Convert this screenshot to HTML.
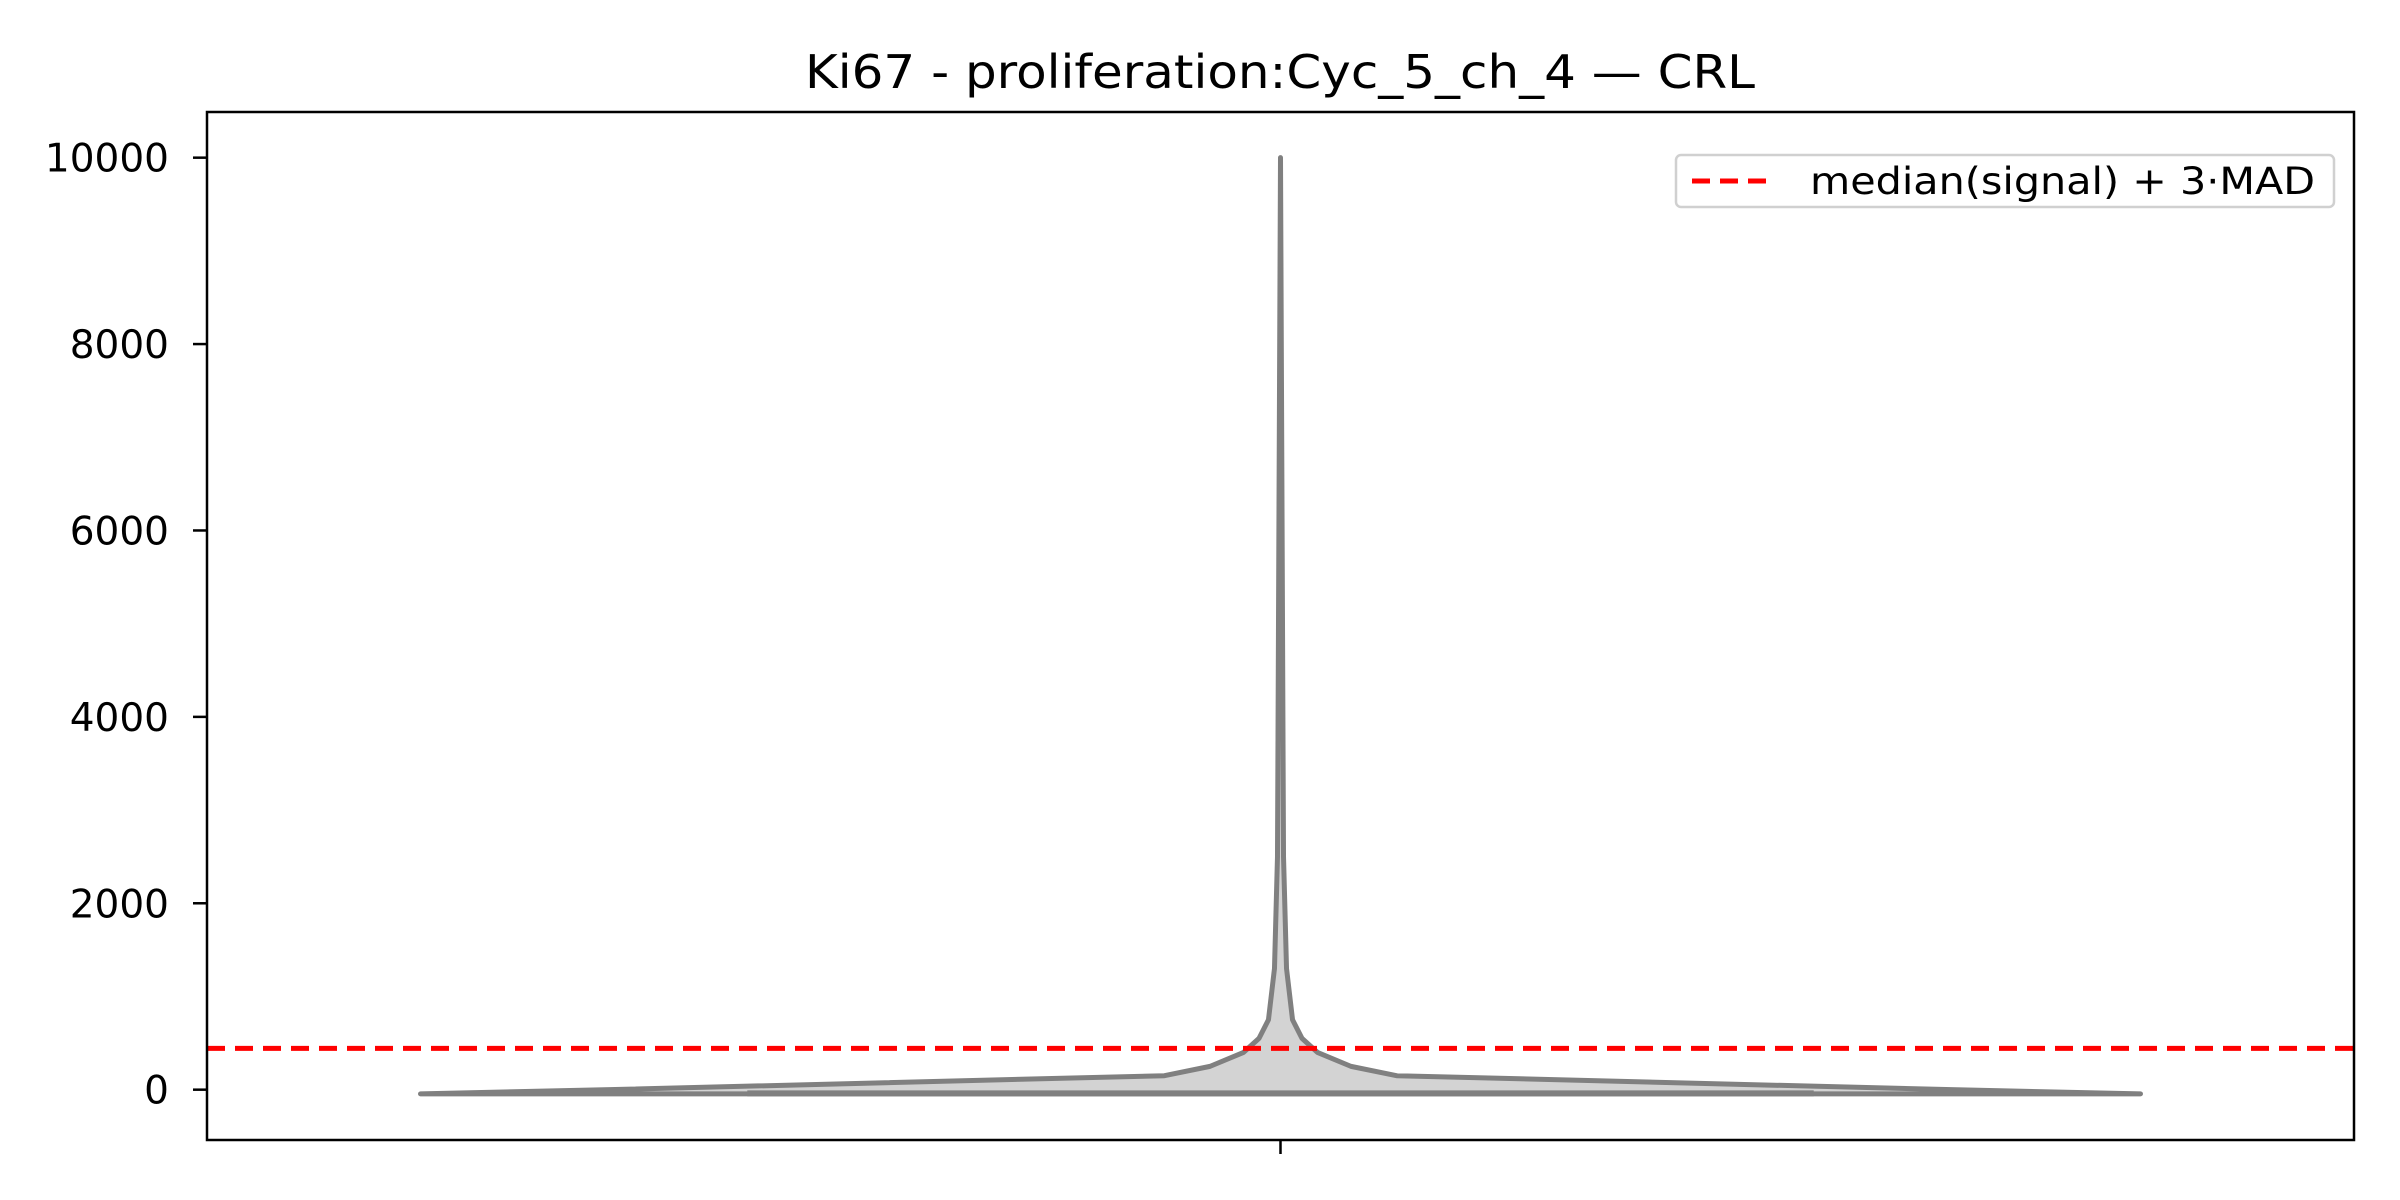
<!DOCTYPE html>
<html><head><meta charset="utf-8"><style>
html,body{margin:0;padding:0;background:#fff}
svg{display:block;font-family:"DejaVu Sans","Liberation Sans",sans-serif}
</style></head><body>
<svg id="chart" width="2400" height="1200" viewBox="0 0 2400 1200" xmlns="http://www.w3.org/2000/svg">
<rect width="2400" height="1200" fill="#fff"/>
<text x="1280" y="88" font-size="46" text-anchor="middle" textLength="950" lengthAdjust="spacingAndGlyphs">Ki67 - proliferation:Cyc_5_ch_4 — CRL</text>
<g id="plot"></g>
<rect x="207" y="112" width="2147" height="1028" fill="none" stroke="#000" stroke-width="2.5"/>
<g>
<rect x="1676" y="155" width="658" height="52" rx="5" fill="#fff" stroke="#d0d0d0" stroke-width="2.5"/>
<line x1="1692" y1="181" x2="1776" y2="181" stroke="#ff0000" stroke-width="5" stroke-dasharray="18,10"/>
<text x="1810" y="194" font-size="37" textLength="505" lengthAdjust="spacingAndGlyphs">median(signal) + 3·MAD</text>
</g>
</svg>
<script>
const yTicks = [0, 2000, 4000, 6000, 8000, 10000];
const violinValues = [-45, 0, 150, 250, 400, 550, 750, 1300, 2500, 10000];
const violinWidths = [1.0, 0.78, 0.135, 0.082, 0.043, 0.025, 0.014, 0.007, 0.0035, 0.0];
const thresholdValue = [443];
const category = ["CRL"];

const NS = "http://www.w3.org/2000/svg";
const L = 207, R = 2354, T = 112, B = 1140;
const yMin = -540, yMax = 10490;
function y(v){ return B - (v - yMin) / (yMax - yMin) * (B - T); }
const cx = (L + R) / 2, maxHalf = 860;
function xw(w, side){ return cx + side * w * maxHalf; }
const plot = document.getElementById('plot');

yTicks.forEach(t => {
  const ln = document.createElementNS(NS, 'line');
  ln.setAttribute('x1', L - 14); ln.setAttribute('x2', L);
  ln.setAttribute('y1', y(t)); ln.setAttribute('y2', y(t));
  ln.setAttribute('stroke', '#000'); ln.setAttribute('stroke-width', '2.5');
  
  
  plot.appendChild(ln);
  const tx = document.createElementNS(NS, 'text');
  tx.setAttribute('x', L - 38); tx.setAttribute('y', y(t) + 14);
  tx.setAttribute('font-size', '39'); tx.setAttribute('text-anchor', 'end');
  tx.textContent = t;
  
  
  plot.appendChild(tx);
});
const xt = document.createElementNS(NS, 'line');
xt.setAttribute('x1', cx); xt.setAttribute('x2', cx);
xt.setAttribute('y1', B); xt.setAttribute('y2', B + 14);
xt.setAttribute('stroke', '#000'); xt.setAttribute('stroke-width', '2.5');


plot.appendChild(xt);

let pts = [];
for (let i = 0; i < violinValues.length; i++) pts.push(xw(violinWidths[i], -1) + ',' + y(violinValues[i]));
for (let i = violinValues.length - 1; i >= 0; i--) pts.push(xw(violinWidths[i], 1) + ',' + y(violinValues[i]));
const poly = document.createElementNS(NS, 'polygon');
poly.setAttribute('points', pts.join(' '));
poly.setAttribute('fill', '#d3d3d3'); poly.setAttribute('stroke', '#808080');
poly.setAttribute('stroke-width', '5'); poly.setAttribute('stroke-linejoin', 'round');


plot.appendChild(poly);

const base = document.createElementNS(NS, 'line');
base.setAttribute('x1', xw(0.62, -1)); base.setAttribute('x2', xw(0.62, 1));
base.setAttribute('y1', y(-40)); base.setAttribute('y2', y(-40));
base.setAttribute('stroke', '#808080'); base.setAttribute('stroke-width', '6');


plot.appendChild(base);

const thr = document.createElementNS(NS, 'line');
thr.setAttribute('x1', L); thr.setAttribute('x2', R);
thr.setAttribute('y1', y(thresholdValue[0])); thr.setAttribute('y2', y(thresholdValue[0]));
thr.setAttribute('stroke', '#ff0000'); thr.setAttribute('stroke-width', '5');
thr.setAttribute('stroke-dasharray', '18,10');


plot.appendChild(thr);
</script>
</body></html>
